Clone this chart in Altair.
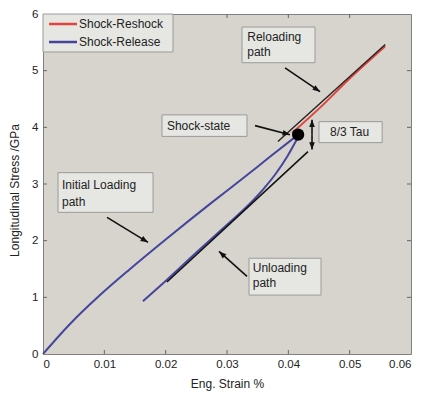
import math
import altair as alt
import pandas as pd

# ---------------- data ----------------
load_x = [0, 0.0044, 0.0093, 0.0142, 0.020, 0.0276, 0.0326, 0.037, 0.0416]
load_y = [0, 0.53, 1.04, 1.50, 2.02, 2.68, 3.10, 3.48, 3.87]

release_x = [0.0163, 0.020, 0.025, 0.030, 0.0335, 0.036, 0.038, 0.0399, 0.0416]
release_y = [0.93, 1.29, 1.79, 2.28, 2.63, 2.92, 3.19, 3.50, 3.83]

reshock_x = [0.0406, 0.045, 0.050, 0.0558]
reshock_y = [3.90, 4.33, 4.86, 5.43]

model_unload_x = [0.0202, 0.0432]
model_unload_y = [1.27, 3.57]
model_reload_x = [0.0383, 0.0558]
model_reload_y = [3.75, 5.46]

shock_state_x = [0.0416]
shock_state_y = [3.87]

x_ticks = [0, 0.01, 0.02, 0.03, 0.04, 0.05, 0.06]
y_ticks = [0, 1, 2, 3, 4, 5, 6]

legend_labels = ["Shock-Reshock", "Shock-Release"]

box_x1 = [0.03245, 0.0194, 0.0450, 0.00245, 0.03359]
box_x2 = [0.04435, 0.03326, 0.0553, 0.01794, 0.04533]
box_y1 = [5.14, 3.84, 3.73, 2.50, 1.04]
box_y2 = [5.77, 4.22, 4.10, 3.20, 1.69]

label_text = ["Reloading", "path", "Shock-state", "8/3 Tau", "Initial Loading", "path", "Unloading", "path"]
label_x = [0.0333, 0.0333, 0.0202, 0.0468, 0.0031, 0.0031, 0.0342, 0.0342]
label_y = [5.60, 5.33, 4.03, 3.91, 2.99, 2.69, 1.51, 1.25]

arrow_x1 = [0.03946, 0.03457, 0.01044, 0.03326, 0.04386, 0.04386]
arrow_y1 = [5.05, 4.03, 2.41, 1.37, 3.875, 3.875]
arrow_x2 = [0.04517, 0.04027, 0.01712, 0.0287, 0.04386, 0.04386]
arrow_y2 = [4.63, 3.87, 1.97, 1.81, 4.135, 3.607]

# ---------------- layout ----------------
W, H = 368, 340
XD, YD = [0, 0.06], [0, 6]
BLUE = "#45459c"
RED = "#e0443c"
FONT = "Liberation Sans"

xs = alt.Scale(domain=XD, nice=False, zero=False)
ys = alt.Scale(domain=YD, nice=False, zero=False)


def line_df(xv, yv, name):
    return pd.DataFrame({"x": xv, "y": yv, "s": name, "o": range(len(xv))})


def line_layer(df, color, width):
    return alt.Chart(df).mark_line(color=color, strokeWidth=width, interpolate="monotone").encode(
        x=alt.X("x:Q", scale=xs), y=alt.Y("y:Q", scale=ys), order="o:Q"
    )


base_x_axis = alt.Axis(
    values=x_ticks, format=".2~f", ticks=False, domain=False, grid=False,
    labelFont=FONT, labelFontSize=11.5, labelColor="#222", labelPadding=4,
    title="Eng. Strain %", titleFont=FONT, titleFontSize=12, titleFontWeight="normal",
    titleColor="#222", titleX=W / 2, titleY=29, titleBaseline="middle", titleAlign="center",
)
base_y_axis = alt.Axis(
    values=y_ticks, format="d", ticks=False, domain=False, grid=False,
    labelFont=FONT, labelFontSize=11.5, labelColor="#222", labelPadding=5,
    title="Longitudinal Stress /GPa", titleFont=FONT, titleFontSize=12,
    titleFontWeight="normal", titleColor="#222", titleAngle=-90, titleX=-29,
    titleY=176, titleBaseline="middle", titleAlign="center",
)

load = alt.Chart(line_df(load_x, load_y, "load")).mark_line(
    color=BLUE, strokeWidth=2, interpolate="monotone"
).encode(
    x=alt.X("x:Q", scale=xs, axis=base_x_axis),
    y=alt.Y("y:Q", scale=ys, axis=base_y_axis),
    order="o:Q",
)
release = line_layer(line_df(release_x, release_y, "release"), BLUE, 2)
m_unload = line_layer(line_df(model_unload_x, model_unload_y, "mu"), "#111", 1.6)
reshock = line_layer(line_df(reshock_x, reshock_y, "reshock"), RED, 2)
m_reload = line_layer(line_df(model_reload_x, model_reload_y, "mr"), "#222", 1.4)

dot = alt.Chart(pd.DataFrame({"x": shock_state_x, "y": shock_state_y})).mark_point(
    filled=True, color="#000", size=150, opacity=1
).encode(x=alt.X("x:Q", scale=xs), y=alt.Y("y:Q", scale=ys))

# inward ticks
tick_color = "#666"
xt = pd.DataFrame({"x": x_ticks[1:-1]})
yt = pd.DataFrame({"y": y_ticks[1:-1]})
xt_bot = alt.Chart(xt).mark_rule(color=tick_color).encode(
    x=alt.X("x:Q", scale=xs), y=alt.value(H), y2=alt.value(H - 4))
xt_top = alt.Chart(xt).mark_rule(color=tick_color).encode(
    x=alt.X("x:Q", scale=xs), y=alt.value(0), y2=alt.value(4))
yt_left = alt.Chart(yt).mark_rule(color=tick_color).encode(
    y=alt.Y("y:Q", scale=ys), x=alt.value(0), x2=alt.value(4))
yt_right = alt.Chart(yt).mark_rule(color=tick_color).encode(
    y=alt.Y("y:Q", scale=ys), x=alt.value(W), x2=alt.value(W - 4))

# annotation boxes
boxes = alt.Chart(pd.DataFrame({"x1": box_x1, "x2": box_x2, "y1": box_y1, "y2": box_y2})).mark_rect(
    fill="#e6e6e3", stroke="#9a9a9a", strokeWidth=1
).encode(
    x=alt.X("x1:Q", scale=xs), x2="x2:Q", y=alt.Y("y1:Q", scale=ys), y2="y2:Q"
)
labels = alt.Chart(pd.DataFrame({"x": label_x, "y": label_y, "t": label_text})).mark_text(
    align="left", baseline="middle", font=FONT, fontSize=12, color="#222"
).encode(x=alt.X("x:Q", scale=xs), y=alt.Y("y:Q", scale=ys), text="t:N")

# arrows
px_x = W / (XD[1] - XD[0])
px_y = H / (YD[1] - YD[0])
angles = []
for a, b, c, d in zip(arrow_x1, arrow_y1, arrow_x2, arrow_y2):
    dx = (c - a) * px_x
    dy = -(d - b) * px_y
    angles.append(math.degrees(math.atan2(dx, -dy)) % 360)
arr_df = pd.DataFrame({"x1": arrow_x1, "y1": arrow_y1, "x2": arrow_x2, "y2": arrow_y2, "ang": angles})
shafts = alt.Chart(arr_df).mark_rule(color="#111", strokeWidth=1.6).encode(
    x=alt.X("x1:Q", scale=xs), y=alt.Y("y1:Q", scale=ys), x2="x2:Q", y2="y2:Q"
)
heads = alt.Chart(arr_df).mark_point(
    shape="M0,0L-0.38,1L0.38,1Z", filled=True, color="#111", size=220, opacity=1
).encode(x=alt.X("x2:Q", scale=xs), y=alt.Y("y2:Q", scale=ys), angle=alt.Angle("ang:Q", scale=None))

# legend (inside top-left)
leg_box = alt.Chart(pd.DataFrame({"a": [0]})).mark_rect(
    fill="#e6e6e3", stroke="#9a9a9a", strokeWidth=1
).encode(x=alt.value(0), x2=alt.value(130), y=alt.value(0), y2=alt.value(38))
leg_df = pd.DataFrame({"t": legend_labels, "c": [RED, BLUE], "yy": [10, 28]})
leg_lines = alt.Chart(leg_df).mark_rule(strokeWidth=2.5).encode(
    x=alt.value(6), x2=alt.value(34), y=alt.Y("yy:Q", scale=None),
    color=alt.Color("c:N", scale=None),
)
leg_text = alt.Chart(leg_df).mark_text(
    align="left", baseline="middle", font=FONT, fontSize=12, color="#222"
).encode(x=alt.value(36), y=alt.Y("yy:Q", scale=None), text="t:N")

chart = alt.layer(
    load, release, m_unload, reshock, m_reload, dot,
    xt_bot, xt_top, yt_left, yt_right,
    shafts, heads, boxes, labels,
    leg_box, leg_lines, leg_text,
).properties(
    width=W, height=H,
    autosize=alt.AutoSizeParams(type="none"),
    padding={"left": 35, "top": 6, "right": 6, "bottom": 37},
    background="white",
).configure_view(
    fill="#d7d4cd", stroke="#808080", strokeWidth=1
)

chart.save("out.html", embed_options={"renderer": "svg", "actions": False})
